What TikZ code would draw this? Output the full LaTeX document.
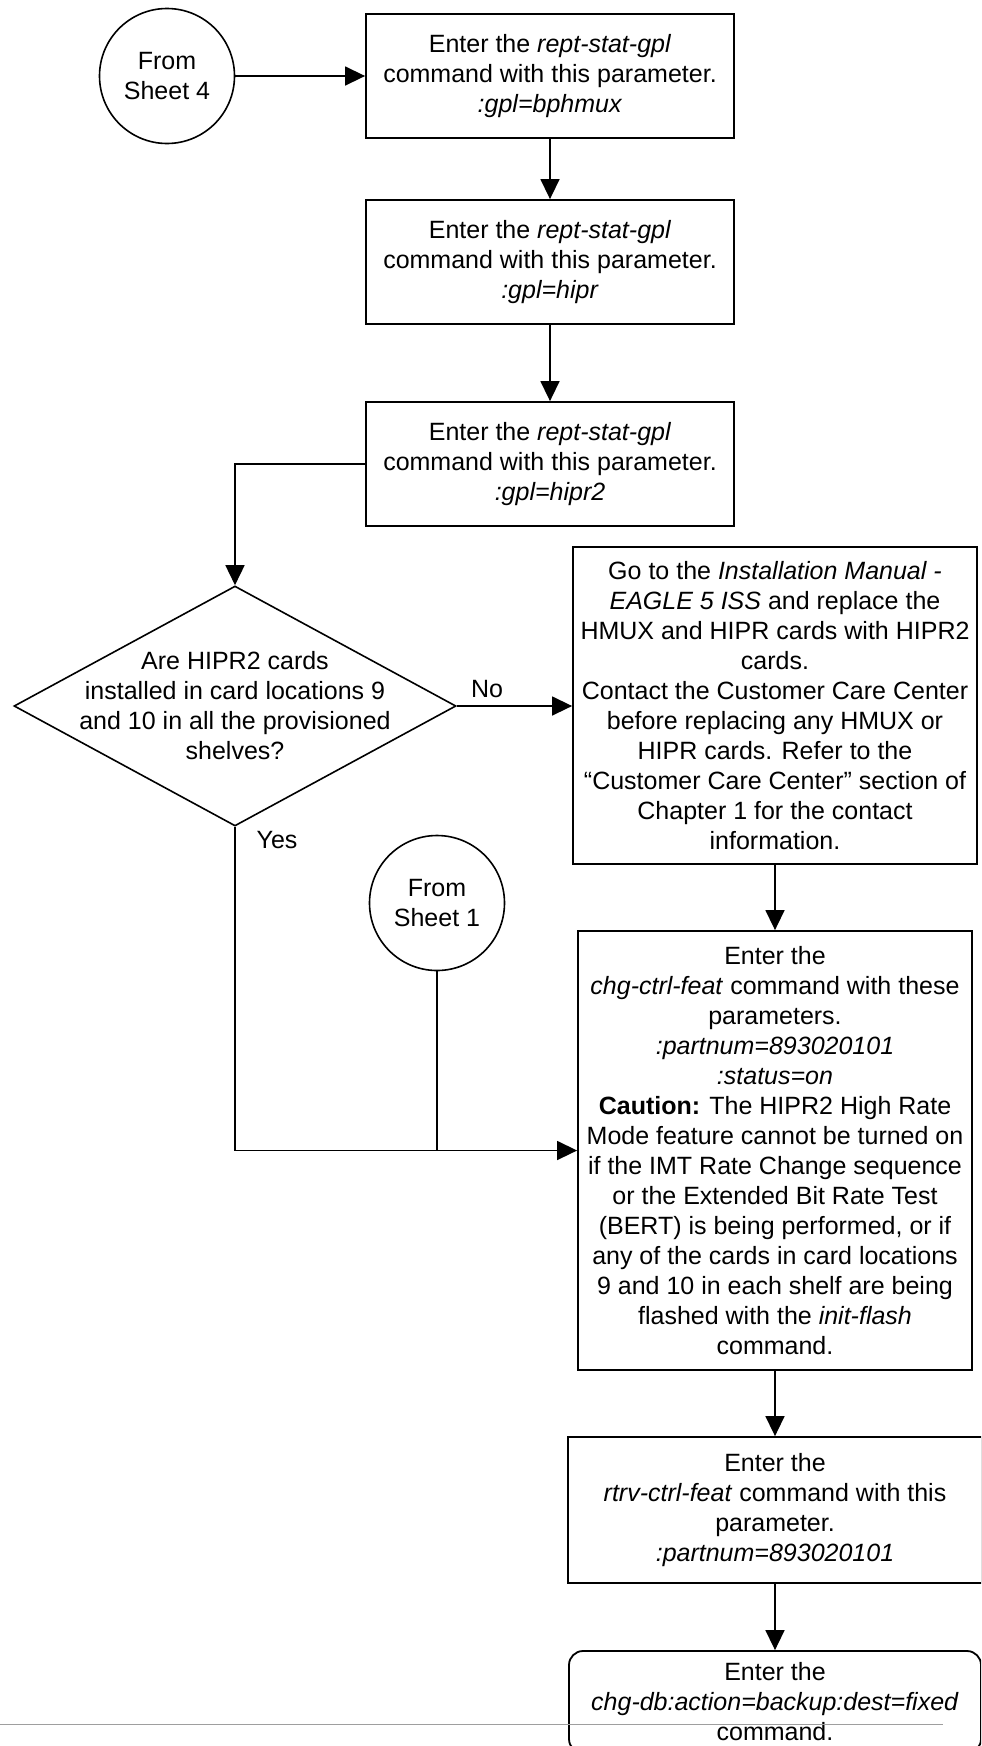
\documentclass[tikz,border=0pt]{standalone}
\usepackage{fontspec}
\setmainfont{Liberation Sans}
\usetikzlibrary{positioning,arrows.meta,shapes.geometric}

\begin{document}
\begin{tikzpicture}[x=0.5pt,y=-0.5pt,font=\fontsize{12.5}{15}\selectfont,
  stepbox/.style={draw,line width=.9pt,align=center,inner sep=1pt},
  sheet/.style={draw,circle,line width=.8pt,minimum size=67.5pt,align=center,inner sep=1pt},
  decision/.style={draw,diamond,line width=.8pt,minimum width=221pt,minimum height=120pt,inner sep=0pt},
  ender/.style={stepbox,rounded corners=7pt},
  arr/.style={-{Triangle[length=10pt,width=9.5pt]},line width=.75pt},
  link/.style={line width=.75pt}]
\clip (0,0) rectangle (981,1746);
\node[sheet] (s4) at (167,76) {From\\Sheet 4};
\node[stepbox,minimum width=184pt,minimum height=62pt] (gpl1) at (550,76) {Enter the \textit{rept-stat-gpl}\\command with this parameter.\\\textit{:gpl=bphmux}};
\node[stepbox,minimum width=184pt,minimum height=62pt] (gpl2) at (550,262) {Enter the \textit{rept-stat-gpl}\\command with this parameter.\\\textit{:gpl=hipr}};
\node[stepbox,minimum width=184pt,minimum height=62pt] (gpl3) at (550,464) {Enter the \textit{rept-stat-gpl}\\command with this parameter.\\\textit{:gpl=hipr2}};
\node[decision] (ask) at (235,706) {};
\node[align=center] (asktxt) at (ask.center) {Are HIPR2 cards\\installed in card locations 9\\and 10 in all the provisioned\\shelves?};
\node[stepbox,minimum width=202pt,minimum height=158.5pt] (manual) at (775,705.5) {Go to the \textit{Installation Manual -}\\\textit{EAGLE 5 ISS} and replace the\\HMUX and HIPR cards with HIPR2\\cards.\\Contact the Customer Care Center\\before replacing any HMUX or\\HIPR cards. Refer to the\\“Customer Care Center” section of\\Chapter 1 for the contact\\information.};
\node[sheet] (s1) at (437,903) {From\\Sheet 1};
\node[stepbox,minimum width=197pt,minimum height=219.5pt] (chg) at (775,1150.5) {Enter the\\\textit{chg-ctrl-feat} command with these\\parameters.\\\textit{:partnum=893020101}\\\textit{:status=on}\\\textbf{Caution:} The HIPR2 High Rate\\Mode feature cannot be turned on\\if the IMT Rate Change sequence\\or the Extended Bit Rate Test\\(BERT) is being performed, or if\\any of the cards in card locations\\9 and 10 in each shelf are being\\flashed with the \textit{init-flash}\\command.};
\node[stepbox,minimum width=207pt,minimum height=73pt] (rtrv) at (775,1510) {Enter the\\\textit{rtrv-ctrl-feat} command with this\\parameter.\\\textit{:partnum=893020101}};
\node[ender,minimum width=206pt,minimum height=51pt] (backup) at (775,1702) {Enter the\\\textit{chg-db:action=backup:dest=fixed}\\command.};
\node (no) at (487,689) {No};
\node (yes) at (277,840) {Yes};
\draw[arr] (s4) -- (gpl1);
\draw[arr] (gpl1) -- (gpl2);
\draw[arr] (gpl2) -- (gpl3);
\draw[arr] (gpl3.west) -| (ask.north);
\draw[arr] (ask.east) -- (ask.east -| manual.west);
\draw[arr] (manual) -- (chg);
\draw[arr] (ask.south) |- (chg.west);
\draw[link] (s1.south) -- (s1.south |- chg.west);
\draw[arr] (chg) -- (rtrv);
\draw[arr] (rtrv) -- (backup);
\draw[line width=.5pt,draw=black!38] (0,1724) -- (943,1724);
\end{tikzpicture}
\end{document}
